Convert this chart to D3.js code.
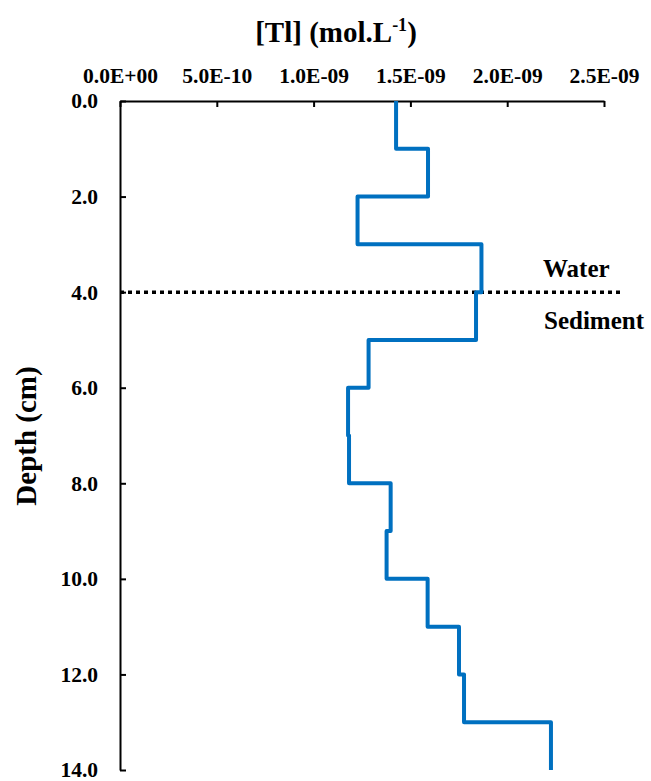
<!DOCTYPE html>
<html><head><meta charset="utf-8">
<script src="https://cdn.jsdelivr.net/npm/d3@7"></script>
<style>body{margin:0;background:#fff;}svg{display:block;}text{font-family:"Liberation Serif","Times New Roman",serif;font-weight:bold;fill:#000;}</style>
</head><body>
<svg id="c" width="651" height="781"></svg>
<script>
const depthTop    = [0,1,2,3,4,5,6,7,8,9,10,11,12,13];
const depthBottom = [1,2,3,4,5,6,7,8,9,10,11,12,13,14];
const tlValues = [1.426e-9,1.591e-9,1.227e-9,1.867e-9,1.839e-9,1.284e-9,1.178e-9,1.183e-9,1.398e-9,1.377e-9,1.589e-9,1.751e-9,1.777e-9,2.226e-9];
const xTicks = [0,5e-10,1e-9,1.5e-9,2e-9,2.5e-9];
const xTickLabels = ["0.0E+00","5.0E-10","1.0E-09","1.5E-09","2.0E-09","2.5E-09"];
const yTicks = [0,2,4,6,8,10,12,14];
const interfaceDepth = 4;
const zoneLabels = ["Water","Sediment"];

const svg = d3.select("#c");
const x = d3.scaleLinear().domain([0,2.5e-9]).range([120,604]);
const y = d3.scaleLinear().domain([0,14]).range([101,770]);

// axes
const xAxis = d3.axisTop(x).tickValues(xTicks).tickFormat((d,i)=>xTickLabels[i]).tickSizeInner(-6).tickSizeOuter(0).tickPadding(18);
const gx = svg.append("g").attr("transform",`translate(0,${y(0)})`).call(xAxis);
gx.attr("font-size",null).attr("font-family",null);
gx.select(".domain").attr("stroke","#000").attr("stroke-width",2);
gx.selectAll(".tick line").attr("stroke","#000").attr("stroke-width",2);
gx.selectAll(".tick text").style("font-size","21.5px").attr("fill","#000");

const yAxis = d3.axisLeft(y).tickValues(yTicks).tickFormat(d3.format(".1f")).tickSizeInner(-6).tickSizeOuter(0).tickPadding(22);
const gy = svg.append("g").attr("transform",`translate(${x(0)},0)`).call(yAxis);
gy.attr("font-size",null).attr("font-family",null);
gy.select(".domain").attr("stroke","#000").attr("stroke-width",2);
gy.selectAll(".tick line").attr("stroke","#000").attr("stroke-width",2);
gy.selectAll(".tick text").style("font-size","21.5px").attr("fill","#000");

// interface dotted line
svg.append("line").attr("x1",x(0)).attr("x2",623).attr("y1",y(interfaceDepth)).attr("y2",y(interfaceDepth))
  .attr("stroke","#000").attr("stroke-width",3.5).attr("stroke-dasharray","4,4");

// step profile
const pts = [];
tlValues.forEach((v,i)=>{pts.push([v,depthTop[i]]);pts.push([v,depthBottom[i]]);});
svg.append("path").datum(pts)
  .attr("d",d3.line().x(d=>x(d[0])).y(d=>y(d[1])))
  .attr("fill","none").attr("stroke","#0070C0").attr("stroke-width",4).attr("stroke-linejoin","round");

// zone labels
svg.append("text").attr("x",543).attr("y",277).style("font-size","25px").text(zoneLabels[0]);
svg.append("text").attr("x",544).attr("y",329).style("font-size","25px").text(zoneLabels[1]);

// title
const t = svg.append("text").attr("x",336).attr("y",42).attr("text-anchor","middle").style("font-size","29px");
t.append("tspan").text("[Tl] (mol.L");
t.append("tspan").style("font-size","18px").attr("dy",-11).text("-1");
t.append("tspan").attr("dy",11).text(")");

// y title
svg.append("text").attr("transform",`translate(36,436) rotate(-90)`).attr("text-anchor","middle").style("font-size","29px").text("Depth (cm)");
</script>
</body></html>
